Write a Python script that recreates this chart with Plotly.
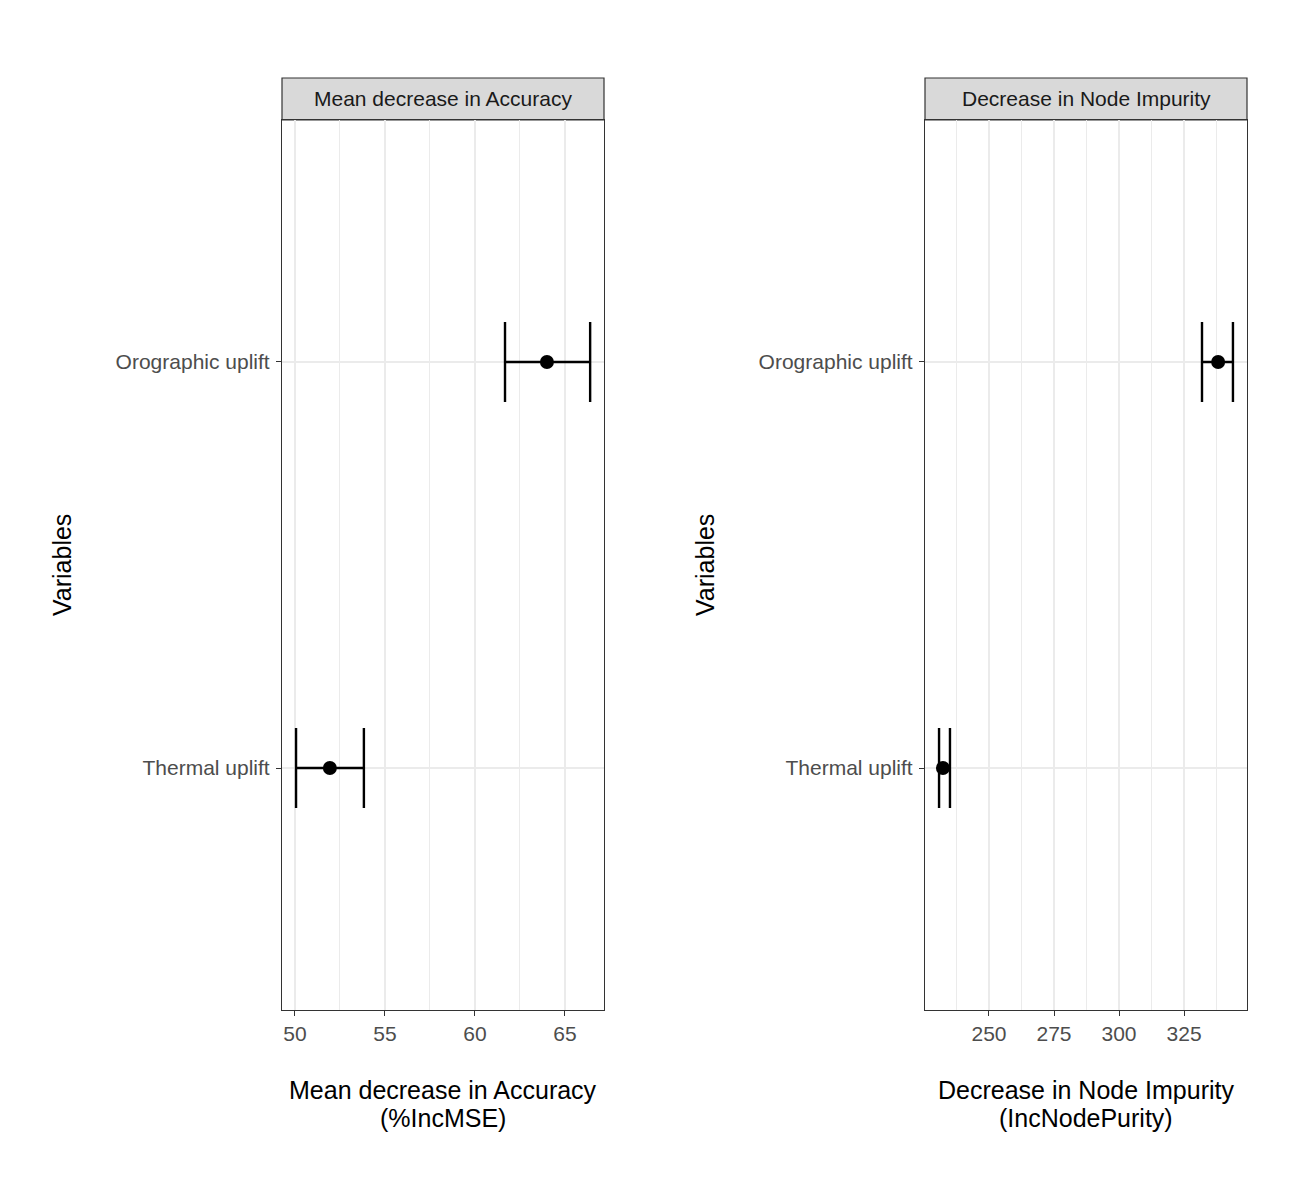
import plotly.graph_objects as go

variables = ["Orographic uplift", "Thermal uplift"]
ypos = [2, 1]

acc_mean = [64.0, 51.94]
acc_low = [61.67, 50.06]
acc_high = [66.40, 53.83]

imp_mean = [338.1, 232.3]
imp_low = [331.9, 230.8]
imp_high = [343.8, 235.0]

panel_titles = ["Mean decrease in Accuracy", "Decrease in Node Impurity"]
x_title_lines = [["Mean decrease in Accuracy", "(%IncMSE)"],
                 ["Decrease in Node Impurity", "(IncNodePurity)"]]

OFF = 8  # page body margin
W, H = 1297 - 2 * OFF, 1193 - 2 * OFF
FONT = "Liberation Sans, Arial, sans-serif"

def px_x(p):
    return (p - OFF) / W

def px_y(p):
    return 1 - (p - OFF) / H

dom1 = [px_x(282), px_x(604)]
dom2 = [px_x(925), px_x(1247)]
ydom = [px_y(1010), px_y(120)]

fig = go.Figure()

def add_series(mean, low, high, xa, ya):
    fig.add_trace(go.Scatter(
        x=mean, y=ypos, mode="markers", xaxis=xa, yaxis=ya,
        marker=dict(color="black", size=14),
        error_x=dict(type="data", symmetric=False,
                     array=[h - m for h, m in zip(high, mean)],
                     arrayminus=[m - l for m, l in zip(mean, low)],
                     color="black", thickness=2.4, width=40),
        showlegend=False, hoverinfo="x+y"))

add_series(acc_mean, acc_low, acc_high, "x", "y")
add_series(imp_mean, imp_low, imp_high, "x2", "y2")

axis_common = dict(
    showline=True, linecolor="#333333", linewidth=1.2, mirror=True,
    ticks="outside", ticklen=5, tickcolor="#333333", tickwidth=1.2,
    tickfont=dict(family=FONT, size=21, color="#4D4D4D"),
    showgrid=True, gridcolor="#EBEBEB", gridwidth=1.6, zeroline=False,
)

xa1 = dict(axis_common, domain=dom1, anchor="y", range=[49.28, 67.17],
           tickvals=[50, 55, 60, 65],
           minor=dict(tickvals=[52.5, 57.5, 62.5], showgrid=True, gridcolor="#EBEBEB", gridwidth=0.8, ticks=""))
xa2 = dict(axis_common, domain=dom2, anchor="y2", range=[225.4, 349.2],
           tickvals=[250, 275, 300, 325],
           minor=dict(tickvals=[237.5, 262.5, 287.5, 312.5, 337.5], showgrid=True, gridcolor="#EBEBEB", gridwidth=0.8, ticks=""))
ya1 = dict(axis_common, domain=ydom, anchor="x", range=[0.404, 2.596],
           tickvals=ypos, ticktext=variables, ticklabelstandoff=2)
ya2 = dict(axis_common, domain=ydom, anchor="x2", range=[0.404, 2.596],
           tickvals=ypos, ticktext=variables, ticklabelstandoff=2)

shapes = []
annotations = []
for dom, title, lines in [(dom1, panel_titles[0], x_title_lines[0]), (dom2, panel_titles[1], x_title_lines[1])]:
    xc = (dom[0] + dom[1]) / 2
    shapes.append(dict(type="rect", xref="paper", yref="paper",
                       x0=dom[0], x1=dom[1], y0=px_y(120), y1=px_y(78),
                       fillcolor="#D9D9D9", line=dict(color="#333333", width=1.2), layer="below"))
    annotations.append(dict(xref="paper", yref="paper", x=xc, y=px_y(99),
                            text=title, showarrow=False, xanchor="center", yanchor="middle",
                            font=dict(family=FONT, size=21, color="#1A1A1A")))
    for line, yc in zip(lines, [1090, 1118]):
        annotations.append(dict(xref="paper", yref="paper", x=xc, y=px_y(yc),
                                text=line, showarrow=False, xanchor="center", yanchor="middle",
                                font=dict(family=FONT, size=25, color="black")))

for xc in [62, 705]:
    annotations.append(dict(xref="paper", yref="paper", x=px_x(xc), y=px_y(565),
                            text="Variables", showarrow=False, textangle=-90,
                            xanchor="center", yanchor="middle",
                            font=dict(family=FONT, size=25, color="black")))

fig.update_layout(
    width=W, height=H,
    margin=dict(l=0, r=0, t=0, b=0),
    paper_bgcolor="white", plot_bgcolor="white",
    xaxis=xa1, xaxis2=xa2, yaxis=ya1, yaxis2=ya2,
    shapes=shapes, annotations=annotations,
    font=dict(family=FONT),
)

fig.write_html("out.html")
